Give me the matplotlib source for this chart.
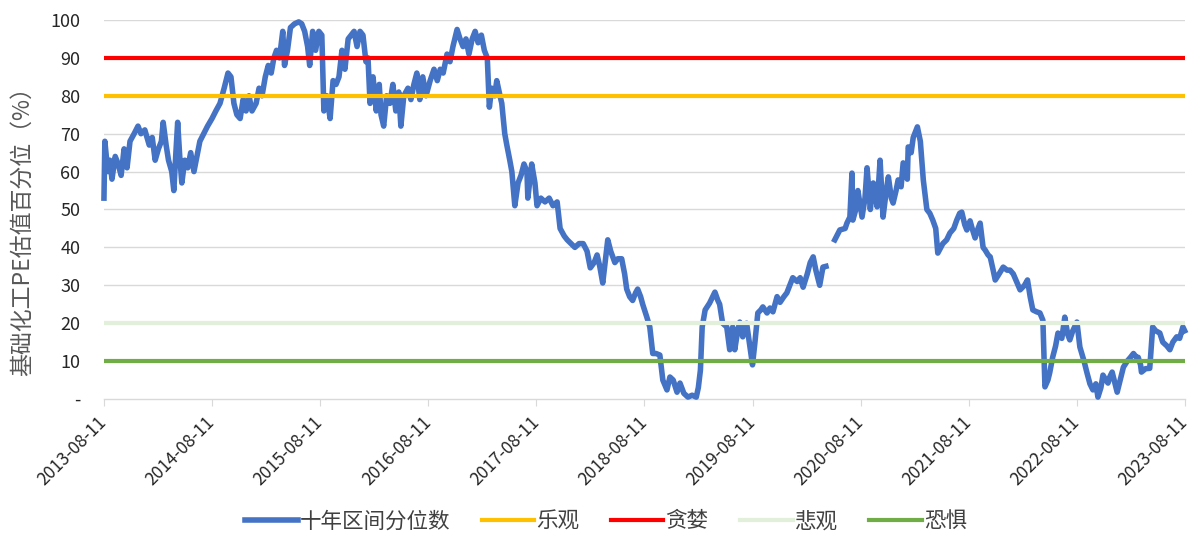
import matplotlib
matplotlib.use("Agg")
import matplotlib.pyplot as plt
import matplotlib.dates as mdates
import numpy as np
import pandas as pd

plt.rcParams['font.family'] = ['Noto Sans CJK SC', 'DejaVu Sans']

# 十年区间分位数; None marks the gap in spring 2020
dates = [
    "2013-08-11", "2013-08-14", "2013-08-24", "2013-08-31", "2013-09-07", "2013-09-18",
    "2013-09-28", "2013-10-08", "2013-10-18", "2013-10-28", "2013-11-07", "2013-11-21",
    "2013-12-04", "2013-12-14", "2013-12-27", "2014-01-11", "2014-01-21", "2014-01-31",
    "2014-02-11", "2014-02-21", "2014-02-27", "2014-03-09", "2014-03-17", "2014-03-28",
    "2014-04-04", "2014-04-11", "2014-04-17", "2014-04-24", "2014-05-01", "2014-05-11",
    "2014-05-21", "2014-05-31", "2014-06-11", "2014-06-21", "2014-07-01", "2014-07-14",
    "2014-07-27", "2014-08-11", "2014-08-24", "2014-09-07", "2014-09-21", "2014-10-04",
    "2014-10-14", "2014-10-24", "2014-11-03", "2014-11-14", "2014-11-24", "2014-12-04",
    "2014-12-14", "2014-12-24", "2015-01-07", "2015-01-17", "2015-01-27", "2015-02-07",
    "2015-02-17", "2015-02-27", "2015-03-08", "2015-03-17", "2015-03-27", "2015-04-07",
    "2015-04-13", "2015-04-23", "2015-05-03", "2015-05-17", "2015-05-31", "2015-06-10",
    "2015-06-20", "2015-06-30", "2015-07-07", "2015-07-17", "2015-07-27", "2015-08-07",
    "2015-08-17", "2015-08-24", "2015-09-03", "2015-09-14", "2015-09-24", "2015-10-04",
    "2015-10-14", "2015-10-24", "2015-11-03", "2015-11-14", "2015-11-24", "2015-12-04",
    "2015-12-14", "2015-12-24", "2016-01-03", "2016-01-13", "2016-01-20", "2016-01-27",
    "2016-02-06", "2016-02-17", "2016-02-27", "2016-03-04", "2016-03-13", "2016-03-23",
    "2016-04-03", "2016-04-13", "2016-04-23", "2016-05-03", "2016-05-10", "2016-05-20",
    "2016-06-03", "2016-06-13", "2016-06-23", "2016-07-03", "2016-07-13", "2016-07-23",
    "2016-08-03", "2016-08-17", "2016-08-30", "2016-09-10", "2016-09-20", "2016-09-30",
    "2016-10-13", "2016-10-23", "2016-11-02", "2016-11-16", "2016-11-26", "2016-12-06",
    "2016-12-16", "2016-12-26", "2017-01-06", "2017-01-16", "2017-01-26", "2017-02-06",
    "2017-02-16", "2017-02-26", "2017-03-05", "2017-03-13", "2017-03-23", "2017-03-30",
    "2017-04-10", "2017-04-16", "2017-04-26", "2017-05-03", "2017-05-13", "2017-05-20",
    "2017-05-30", "2017-06-10", "2017-06-20", "2017-06-30", "2017-07-10", "2017-07-13",
    "2017-07-26", "2017-08-06", "2017-08-13", "2017-08-26", "2017-09-09", "2017-09-23",
    "2017-10-06", "2017-10-20", "2017-10-30", "2017-11-13", "2017-11-23", "2017-12-06",
    "2017-12-19", "2018-01-02", "2018-01-16", "2018-01-29", "2018-02-09", "2018-02-22",
    "2018-03-04", "2018-03-13", "2018-03-23", "2018-04-03", "2018-04-09", "2018-04-19",
    "2018-05-03", "2018-05-13", "2018-05-26", "2018-06-05", "2018-06-12", "2018-06-22",
    "2018-07-02", "2018-07-12", "2018-07-19", "2018-07-29", "2018-08-05", "2018-08-19",
    "2018-08-29", "2018-09-08", "2018-09-19", "2018-10-02", "2018-10-12", "2018-10-26",
    "2018-11-05", "2018-11-16", "2018-11-29", "2018-12-09", "2018-12-22", "2019-01-05",
    "2019-01-19", "2019-02-02", "2019-02-09", "2019-02-16", "2019-02-22", "2019-03-04",
    "2019-03-19", "2019-04-06", "2019-04-16", "2019-04-22", "2019-05-02", "2019-05-16",
    "2019-05-26", "2019-06-05", "2019-06-12", "2019-06-22", "2019-06-29", "2019-07-09",
    "2019-07-22", "2019-08-02", "2019-08-11", "2019-08-19", "2019-08-29", "2019-09-08",
    "2019-09-15", "2019-09-29", "2019-10-09", "2019-10-19", "2019-11-02", "2019-11-12",
    "2019-11-25", "2019-12-05", "2019-12-15", "2019-12-25", "2020-01-09", "2020-01-19",
    "2020-01-29", "2020-02-12", "2020-02-22", "2020-03-03", "2020-03-12", "2020-03-25",
    "2020-04-05", "2020-04-15", "2020-04-30", "2020-05-15", "2020-06-01", "2020-06-19",
    "2020-06-25", "2020-07-05", "2020-07-12", "2020-07-15", "2020-07-25", "2020-08-01",
    "2020-08-15", "2020-08-25", "2020-09-01", "2020-09-12", "2020-09-22", "2020-10-05",
    "2020-10-15", "2020-10-25", "2020-11-05", "2020-11-12", "2020-11-22", "2020-11-28",
    "2020-12-08", "2020-12-15", "2020-12-25", "2021-01-01", "2021-01-15", "2021-01-18",
    "2021-01-28", "2021-02-04", "2021-02-18", "2021-02-28", "2021-03-10", "2021-03-22",
    "2021-04-01", "2021-04-11", "2021-04-21", "2021-04-28", "2021-05-08", "2021-05-15",
    "2021-05-28", "2021-06-08", "2021-06-21", "2021-07-01", "2021-07-11", "2021-07-18",
    "2021-07-28", "2021-08-04", "2021-08-15", "2021-08-22", "2021-09-01", "2021-09-11",
    "2021-09-18", "2021-09-28", "2021-10-05", "2021-10-15", "2021-10-22", "2021-11-01",
    "2021-11-08", "2021-11-21", "2021-12-05", "2021-12-18", "2021-12-28", "2022-01-08",
    "2022-01-21", "2022-01-31", "2022-02-15", "2022-02-25", "2022-03-06", "2022-03-15",
    "2022-03-28", "2022-04-08", "2022-04-18", "2022-04-25", "2022-05-05", "2022-05-11",
    "2022-05-21", "2022-05-31", "2022-06-08", "2022-06-21", "2022-07-01", "2022-07-11",
    "2022-07-18", "2022-07-28", "2022-08-11", "2022-08-21", "2022-09-04", "2022-09-14",
    "2022-09-24", "2022-10-04", "2022-10-14", "2022-10-21", "2022-10-31", "2022-11-07",
    "2022-11-17", "2022-11-24", "2022-12-01", "2022-12-08", "2022-12-18", "2022-12-25",
    "2023-01-04", "2023-01-15", "2023-01-28", "2023-02-08", "2023-02-18", "2023-02-28",
    "2023-03-06", "2023-03-14", "2023-03-17", "2023-03-31", "2023-04-14", "2023-04-24",
    "2023-05-04", "2023-05-18", "2023-05-28", "2023-06-11", "2023-06-21", "2023-07-01",
    "2023-07-14", "2023-07-24", "2023-08-04", "2023-08-10",
]
values = [
    53, 68, 60, 63, 58, 64,
    62, 59, 66, 61, 68, 70,
    72, 70, 71, 67, 69, 63,
    66, 68, 73, 67, 63, 60,
    55, 65, 73, 64, 57, 63,
    61, 65, 60, 64, 68, 70,
    72, 74, 76, 78, 82, 86,
    85, 78, 75, 74, 79, 76,
    80, 76, 78, 82, 80, 85,
    88, 86, 90, 92, 90, 97,
    88, 92, 98, 99, 99.5, 99,
    97, 93, 88, 97, 92, 97,
    96, 76, 80, 74, 84, 83,
    85, 92, 87, 95, 96, 97,
    93, 97, 96, 89, 90, 78,
    85, 76, 83, 75, 72, 80,
    78, 83, 76, 81, 72, 80,
    82, 79, 83, 86, 79, 85,
    80, 84, 87, 84, 87, 86,
    91, 89, 93, 97.5, 95, 93,
    95, 91, 95, 97, 94, 96,
    92, 90, 77, 82, 80, 84,
    80, 78, 70, 67, 63, 60,
    51, 57, 59, 62, 60, 53,
    62, 57, 51, 53, 52, 53,
    51, 52, 45, 43, 42, 41,
    40, 41, 41, 39, 34.6, 36,
    38, 35, 30.6, 38, 42, 39,
    36, 37, 37, 33, 29, 27,
    26, 28, 29, 27, 25, 21.6,
    19, 12, 12, 11.6, 5, 2.4,
    5.8, 5, 1.8, 4.2, 1.5, 0.5,
    1, 0.5, 3, 7.6, 19, 23.5,
    25.3, 28.2, 26, 25, 20, 19,
    13, 19, 13, 18, 20.3, 16.4,
    20, 14, 9, 14.8, 22.7, 23.5,
    24.3, 22.7, 24, 23, 27, 25.5,
    27, 28, 30, 32, 31, 32,
    29.5, 33, 36, 37.5, 34, 30,
    34.8, 35, None, 42, 44.6, 45,
    46.4, 48, 59.6, 47.2, 50, 55,
    48, 53, 61, 50, 57, 50.7,
    63, 48, 55, 58.6, 53, 51.7,
    55, 57.8, 56, 62.3, 58, 66.5,
    65, 69, 71.8, 68, 57.8, 50,
    49, 47.2, 45, 38.5, 40, 41,
    42, 43.8, 45, 47.2, 49, 49.3,
    46, 44.6, 47, 45, 42.5, 45,
    46.4, 40, 39.3, 38, 37.5, 34,
    31.4, 33, 34.8, 34, 34, 33,
    30.6, 28.8, 30, 31.4, 27, 23.5,
    23, 22.7, 20.8, 3.2, 5, 6.9,
    11, 14, 17.4, 16, 21.6, 17,
    15.6, 18, 20.3, 13.7, 10, 6.9,
    4, 2.4, 4, 0.5, 3, 6.3,
    5, 4.2, 6, 7.1, 4, 1.8,
    5, 8.4, 10, 11, 12, 11,
    11, 9, 7.1, 8, 8.1, 19,
    18, 17.4, 15, 14, 13, 15,
    16.4, 16, 19, 18,
]

# threshold lines
level_names = ['乐观', '贪婪', '悲观', '恐惧']
level_values = [80, 90, 20, 10]
level_colors = ['#ffc000', '#ff0000', '#e2efda', '#70ad47']

x = pd.to_datetime(dates)
y = np.array([np.nan if v is None else v for v in values], dtype=float)

start = pd.Timestamp("2013-08-11")
end = pd.Timestamp("2023-08-11")
tick_dates = pd.to_datetime([f"{yr}-08-11" for yr in range(2013, 2024)])

fig = plt.figure(figsize=(11.95, 5.33), dpi=100)
ax = fig.add_axes([0.087, 0.2514, 0.9046, 0.7111])

for yv in range(10, 101, 10):
    ax.axhline(yv, color='#d9d9d9', lw=1.0, zorder=1)

ax.plot(x, y, color='#4472c4', lw=4.0, solid_joinstyle='round',
        label='十年区间分位数', zorder=3, clip_on=False)
for name, val, col in zip(level_names, level_values, level_colors):
    ax.plot([start, end], [val, val], color=col, lw=3.0, label=name, zorder=4)

ax.set_xlim(start, end)
ax.set_ylim(0, 100)
ax.set_yticks(range(0, 101, 10))
ax.set_yticklabels(['-'] + [str(v) for v in range(10, 101, 10)])
ax.set_xticks(tick_dates)
ax.xaxis.set_major_formatter(mdates.DateFormatter('%Y-%m-%d'))
for lab in ax.get_xticklabels():
    lab.set_rotation(45)
    lab.set_ha('right')
    lab.set_va('center')
    lab.set_rotation_mode('anchor')

for s in ['top', 'right', 'left']:
    ax.spines[s].set_visible(False)
ax.spines['bottom'].set_color('#d9d9d9')
ax.spines['bottom'].set_linewidth(1.0)
ax.tick_params(axis='y', length=0, labelsize=13, colors='#262626', pad=17)
ax.tick_params(axis='x', length=5, color='#d9d9d9', labelsize=12.5,
               labelcolor='#262626', pad=10)

ax.set_ylabel('基础化工PE估值百分位（%）', fontsize=16.5, color='#595959', va='center')
ax.yaxis.set_label_coords(-0.0759, 0.458)

fig.legend(loc='center', bbox_to_anchor=(0.507, 0.022), ncol=5, frameon=False,
           fontsize=15.5, handlelength=2.45, columnspacing=1.45, handletextpad=0.1,
           labelcolor='#404040')

fig.savefig('out.png', dpi=100)
